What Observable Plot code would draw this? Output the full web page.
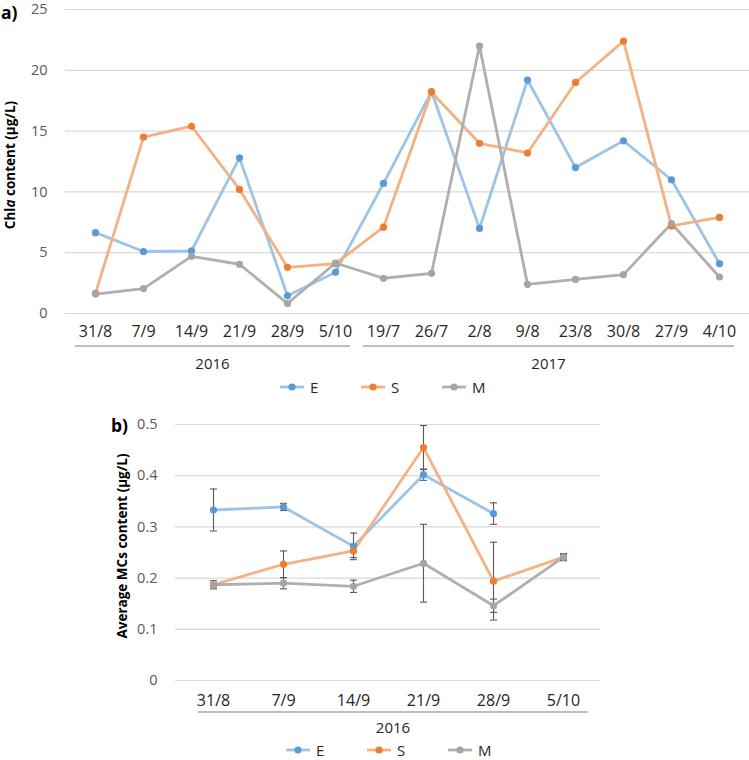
<!DOCTYPE html>
<html>
<head>
<meta charset="utf-8">
<script src="https://cdn.jsdelivr.net/npm/d3@7"></script>
<script src="https://cdn.jsdelivr.net/npm/@observablehq/plot@0.6"></script>
<style>
  body { margin: 0; background: #fff; font-family: "Open Sans", sans-serif; }
  #wrap { position: relative; width: 749px; height: 760px; overflow: hidden; }
  #wrap > * { position: absolute; left: 0; }
</style>
</head>
<body>
<div id="wrap"></div>
<script>
// ---------- data: panel a) ----------
const datesA = ["31/8","7/9","14/9","21/9","28/9","5/10","19/7","26/7","2/8","9/8","23/8","30/8","27/9","4/10"];
const yearsA = ["2016","2016","2016","2016","2016","2016","2017","2017","2017","2017","2017","2017","2017","2017"];
const chlE = [6.65, 5.1, 5.15, 12.8, 1.45, 3.4, 10.7, 18.25, 7.0, 19.2, 12.0, 14.2, 11.0, 4.1];
const chlS = [1.65, 14.5, 15.4, 10.2, 3.8, 4.1, 7.1, 18.2, 14.0, 13.2, 19.0, 22.4, 7.2, 7.9];
const chlM = [1.6, 2.05, 4.7, 4.05, 0.82, 4.15, 2.9, 3.3, 22.0, 2.4, 2.8, 3.2, 7.4, 3.0];
const yTicksA = [0, 5, 10, 15, 20, 25];

// ---------- data: panel b) ----------
const datesB = ["31/8","7/9","14/9","21/9","28/9","5/10"];
const yearsB = ["2016","2016","2016","2016","2016","2016"];
const mcE    = [0.333, 0.339, 0.262, 0.402, 0.326, null];
const mcEerr = [0.041, 0.007, 0.026, 0.011, 0.021, null];
const mcS    = [0.187, 0.227, 0.253, 0.455, 0.194, 0.241];
const mcSerr = [0.004, 0.026, 0.013, 0.043, 0.076, 0.005];
const mcM    = [0.187, 0.190, 0.184, 0.229, 0.146, 0.241];
const mcMerr = [0.008, 0.011, 0.012, 0.076, 0.013, 0.007];
const yTicksB = [0, 0.1, 0.2, 0.3, 0.4, 0.5];

const seriesNames = ["E", "S", "M"];
const lineColors = ["#9DC3E6", "#F4B183", "#AFAFAF"];
const dotColors  = ["#5B9BD5", "#ED7D31", "#A5A5A5"];

// ---------- tables ----------
const valsA = [chlE, chlS, chlM];
const rowsA = seriesNames.map((s, k) => datesA.map((d, i) => ({date: d, series: s, value: valsA[k][i]})));
const valsB = [mcE, mcS, mcM], errsB = [mcEerr, mcSerr, mcMerr];
const rowsB = seriesNames.map((s, k) => datesB.map((d, i) => ({date: d, series: s, value: valsB[k][i], err: errsB[k][i]}))
  .filter(r => r.value != null));

const FONT = "Open Sans";

// group (year) axis below the category labels
function groupAxis(dates, years, insetL, insetR, lineDy, textDy) {
  return (index, scales, values, dims) => {
    const x = scales.x;
    const step = x(dates[1]) - x(dates[0]);
    const base = dims.height - dims.marginBottom;
    const g = d3.create("svg:g");
    const groups = d3.groups(dates.map((d, i) => ({d, yr: years[i]})), e => e.yr);
    for (const [yr, items] of groups) {
      const x1 = x(items[0].d) - step / 2 + insetL;
      const x2 = x(items[items.length - 1].d) + step / 2 - insetR;
      g.append("line").attr("x1", x1).attr("x2", x2).attr("y1", base + lineDy).attr("y2", base + lineDy)
        .attr("stroke", "#7f7f7f").attr("stroke-width", 1.2);
      g.append("text").attr("x", (x1 + x2) / 2).attr("y", base + textDy)
        .attr("text-anchor", "middle").attr("dominant-baseline", "central")
        .attr("fill", "#262626").attr("font-size", 15).attr("font-family", FONT).text(yr);
    }
    return g.node();
  };
}

// rotated y title + panel letter
function titles(parts, tx, ty, letter, lx, ly) {
  return () => {
    const g = d3.create("svg:g").attr("font-family", FONT).attr("fill", "#000");
    const t = g.append("text").attr("transform", `translate(${tx},${ty}) rotate(-90)`)
      .attr("text-anchor", "middle").attr("dominant-baseline", "central")
      .attr("font-weight", "bold").attr("font-size", 13.5);
    for (const p of parts) {
      const s = t.append("tspan").text(p.t);
      if (p.i) s.attr("font-style", "italic");
    }
    g.append("text").attr("x", lx).attr("y", ly).attr("dominant-baseline", "central")
      .attr("text-anchor", "start")
      .attr("font-weight", "bold").attr("font-size", 17.5).text(letter);
    return g.node();
  };
}

const capSymbol = { draw(ctx) { ctx.moveTo(-3.5, 0); ctx.lineTo(3.5, 0); } };
const fmt = d3.format("~g");

// ---------- panel a ----------
const plotA = Plot.plot({
  width: 749, height: 372,
  marginTop: 9, marginBottom: 59, marginLeft: 65, marginRight: 0,
  style: { fontFamily: FONT, fontSize: "14.5px", background: "transparent", overflow: "visible" },
  x: { type: "point", domain: datesA, padding: 0.5 },
  y: { domain: [0, 25] },
  marks: [
    Plot.gridY(yTicksA, { stroke: "#d9d9d9", strokeOpacity: 1, strokeWidth: 1.2 }),
    Plot.axisY({ ticks: yTicksA, tickSize: 0, tickPadding: 18, label: null, tickFormat: fmt, fill: "#595959" }),
    Plot.axisX({ tickSize: 0, tickPadding: 12, label: null, fill: "#262626", fontSize: 16 }),
    ...seriesNames.map((s, k) => Plot.line(rowsA[k], { x: "date", y: "value", stroke: lineColors[k], strokeWidth: 2.8 })),
    ...seriesNames.map((s, k) => Plot.dot(rowsA[k], { x: "date", y: "value", fill: dotColors[k], r: 3.6 })),
    groupAxis(datesA, yearsA, 4, 9, 33, 50),
    titles([{t: "Chl"}, {t: "a", i: true}, {t: " content (µg/L)"}], 10, 165, "a)", 1, 12)
  ]
});
plotA.style.top = "0px";

// ---------- panel b ----------
const plotB = Plot.plot({
  width: 749, height: 345,
  marginTop: 24, marginBottom: 65, marginLeft: 175, marginRight: 149,
  style: { fontFamily: FONT, fontSize: "14.5px", background: "transparent", overflow: "visible" },
  x: { type: "point", domain: datesB, padding: 0.5 },
  y: { domain: [0, 0.5] },
  marks: [
    Plot.gridY(yTicksB, { stroke: "#d9d9d9", strokeOpacity: 1, strokeWidth: 1.2 }),
    Plot.axisY({ ticks: yTicksB, tickSize: 0, tickPadding: 18, label: null, tickFormat: fmt, fill: "#595959" }),
    Plot.axisX({ tickSize: 0, tickPadding: 14, label: null, fill: "#262626", fontSize: 16 }),
    ...seriesNames.map((s, k) => Plot.line(rowsB[k], { x: "date", y: "value", stroke: lineColors[k], strokeWidth: 2.8 })),
    ...seriesNames.map((s, k) => Plot.ruleX(rowsB[k], { x: "date", y1: d => d.value - d.err, y2: d => d.value + d.err, stroke: "#595959", strokeWidth: 1.1 })),
    ...seriesNames.map((s, k) => Plot.dot(rowsB[k], { x: "date", y: d => d.value - d.err, symbol: capSymbol, stroke: "#595959", strokeWidth: 1.1, fill: "none" })),
    ...seriesNames.map((s, k) => Plot.dot(rowsB[k], { x: "date", y: d => d.value + d.err, symbol: capSymbol, stroke: "#595959", strokeWidth: 1.1, fill: "none" })),
    ...seriesNames.map((s, k) => Plot.dot(rowsB[k], { x: "date", y: "value", fill: dotColors[k], r: 3.6 })),
    groupAxis(datesB, yearsB, 20, 10, 32, 47),
    titles([{t: "Average MCs content (µg/L)"}], 122, 146, "b)", 111, 25)
  ]
});
plotB.style.top = "400px";

// ---------- legends ----------
function legend(startX, spacing) {
  const svg = d3.create("svg").attr("width", 749).attr("height", 22)
    .attr("font-family", FONT).attr("font-size", 15);
  seriesNames.forEach((s, k) => {
    const x0 = startX + k * spacing;
    svg.append("line").attr("x1", x0).attr("x2", x0 + 24).attr("y1", 11).attr("y2", 11)
      .attr("stroke", lineColors[k]).attr("stroke-width", 2.8);
    svg.append("circle").attr("cx", x0 + 12).attr("cy", 11).attr("r", 3.6).attr("fill", dotColors[k]);
    svg.append("text").attr("x", x0 + 30).attr("y", 11).attr("dominant-baseline", "central")
      .attr("fill", "#262626").text(s);
  });
  return svg.node();
}
const legA = legend(280, 81); legA.style.top = "376px";
const legB = legend(286, 81); legB.style.top = "739px";

const wrap = document.getElementById("wrap");
wrap.append(plotA, legA, plotB, legB);
</script>
</body>
</html>
